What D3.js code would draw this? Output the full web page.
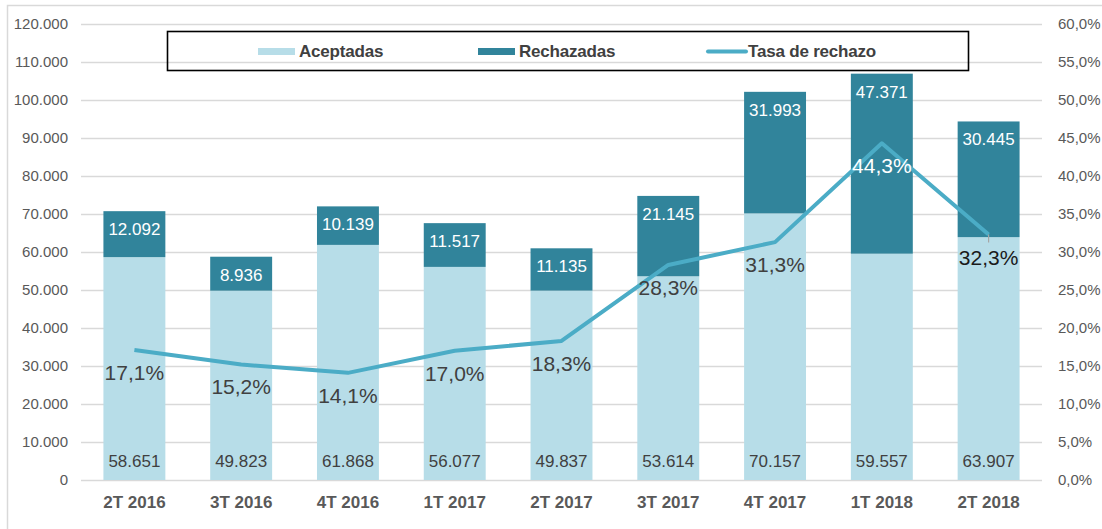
<!DOCTYPE html>
<html>
<head>
<meta charset="utf-8">
<script src="https://cdn.jsdelivr.net/npm/d3@7"></script>
<style>
  html, body { margin: 0; padding: 0; background: #fff; }
  svg { display: block; font-family: "Liberation Sans", Arial, sans-serif; }
</style>
</head>
<body>
<svg id="chart" width="1102" height="529"></svg>
<script>
// Solicitudes por trimestre
const quarters   = ["2T 2016", "3T 2016", "4T 2016", "1T 2017", "2T 2017", "3T 2017", "4T 2017", "1T 2018", "2T 2018"];
const aceptadas  = [58651, 49823, 61868, 56077, 49837, 53614, 70157, 59557, 63907];
const rechazadas = [12092, 8936, 10139, 11517, 11135, 21145, 31993, 47371, 30445];
const tasa       = [0.171, 0.152, 0.141, 0.170, 0.183, 0.283, 0.313, 0.443, 0.323];
const leftTicks  = [0, 10000, 20000, 30000, 40000, 50000, 60000, 70000, 80000, 90000, 100000, 110000, 120000];
const rightTicks = [0, 0.05, 0.10, 0.15, 0.20, 0.25, 0.30, 0.35, 0.40, 0.45, 0.50, 0.55, 0.60];
const seriesNames = ["Aceptadas", "Rechazadas", "Tasa de rechazo"];

const C_ACEPT = "#B7DDE8", C_RECH = "#31849B", C_LINE = "#4BACC6";
const C_AXIS = "#595959", C_LABEL = "#404040", C_GRID = "#D9D9D9";

const es = d3.formatLocale({ decimal: ",", thousands: ".", grouping: [3], currency: ["", " €"] });
const fmtInt = es.format(",d");
const fmtPct = es.format(".1%");

const svg = d3.select("#chart");
const plot = { left: 81, right: 1042, top: 24, bottom: 480 };

const x = d3.scaleBand().domain(quarters).range([plot.left, plot.right])
  .paddingInner(0.42).paddingOuter(0.21);
const y = d3.scaleLinear().domain([0, 120000]).range([plot.bottom, plot.top]);
const y2 = d3.scaleLinear().domain([0, 0.6]).range([plot.bottom, plot.top]);

// chart frame
svg.append("rect").attr("x", 7.5).attr("y", 5.5).attr("width", 1100).attr("height", 530)
  .attr("fill", "none").attr("stroke", C_GRID).attr("stroke-width", 1.5);

// gridlines
svg.append("g").selectAll("line").data(leftTicks).join("line")
  .attr("x1", plot.left).attr("x2", plot.right)
  .attr("y1", d => Math.round(y(d)) + 0.5).attr("y2", d => Math.round(y(d)) + 0.5)
  .attr("stroke", C_GRID).attr("stroke-width", 1.5);

// left axis
const yAxis = d3.axisLeft(y).tickValues(leftTicks).tickFormat(fmtInt).tickSize(0).tickPadding(0);
const gL = svg.append("g").attr("transform", `translate(${plot.left - 13},0)`).call(yAxis);
gL.select(".domain").remove();
gL.selectAll("text").attr("fill", C_AXIS).style("font-size", "15px")
  .style("font-family", "'Liberation Sans', Arial, sans-serif");

// right axis
const yAxisR = d3.axisRight(y2).tickValues(rightTicks).tickFormat(fmtPct).tickSize(0).tickPadding(0);
const gR = svg.append("g").attr("transform", `translate(${plot.right + 16},0)`).call(yAxisR);
gR.select(".domain").remove();
gR.selectAll("text").attr("fill", C_AXIS).style("font-size", "15px")
  .style("font-family", "'Liberation Sans', Arial, sans-serif");

// category axis
const xAxis = d3.axisBottom(x).tickSize(0).tickPadding(0);
const gX = svg.append("g").attr("transform", `translate(0,${plot.bottom})`).call(xAxis);
gX.select(".domain").remove();
gX.selectAll("text").attr("fill", C_AXIS).attr("dy", null).attr("y", 28)
  .style("font-size", "17px").style("font-weight", "bold")
  .style("font-family", "'Liberation Sans', Arial, sans-serif");

// stacked bars
const rows = quarters.map((q, i) => ({ q, a: aceptadas[i], r: rechazadas[i], t: tasa[i] }));
const bars = svg.append("g");
bars.selectAll("rect.acc").data(rows).join("rect").attr("class", "acc")
  .attr("x", d => x(d.q)).attr("width", x.bandwidth())
  .attr("y", d => y(d.a)).attr("height", d => y(0) - y(d.a))
  .attr("fill", C_ACEPT);
bars.selectAll("rect.rej").data(rows).join("rect").attr("class", "rej")
  .attr("x", d => x(d.q)).attr("width", x.bandwidth())
  .attr("y", d => y(d.a + d.r)).attr("height", d => y(d.a) - y(d.a + d.r))
  .attr("fill", C_RECH);

const cx = d => x(d.q) + x.bandwidth() / 2;

// bar value labels
svg.append("g").selectAll("text").data(rows).join("text")
  .attr("x", cx).attr("y", plot.bottom - 13).attr("text-anchor", "middle")
  .attr("fill", C_LABEL).style("font-size", "17px").text(d => fmtInt(d.a));
svg.append("g").selectAll("text").data(rows).join("text")
  .attr("x", cx).attr("y", d => y(d.a + d.r) + 24).attr("text-anchor", "middle")
  .attr("fill", "#fff").style("font-size", "17px").text(d => fmtInt(d.r));

// rejection-rate line
const line = d3.line().x(cx).y(d => y2(d.t));
svg.append("path").datum(rows).attr("d", line)
  .attr("fill", "none").attr("stroke", C_LINE).attr("stroke-width", 4)
  .attr("stroke-linejoin", "round");

// small leader on last point
const last = rows[rows.length - 1];
svg.append("line").attr("x1", cx(last)).attr("x2", cx(last))
  .attr("y1", y2(last.t)).attr("y2", y2(last.t) + 8)
  .attr("stroke", "#A6A6A6").attr("stroke-width", 1.2);

// rate labels
const rateColor = (d, i) => i === 7 ? "#fff" : (i === 8 ? "#1a1a1a" : C_LABEL);
svg.append("g").selectAll("text").data(rows).join("text")
  .attr("x", cx).attr("y", d => y2(d.t) + 30).attr("text-anchor", "middle")
  .attr("fill", rateColor).style("font-size", "21px").text(d => fmtPct(d.t));

// legend
const lg = svg.append("g");
lg.append("rect").attr("x", 167.5).attr("y", 31.5).attr("width", 801).attr("height", 39)
  .attr("fill", "none").attr("stroke", "#000").attr("stroke-width", 1.6);
const legendItems = [
  { name: seriesNames[0], type: "rect", color: C_ACEPT, x0: 258 },
  { name: seriesNames[1], type: "rect", color: C_RECH, x0: 478 },
  { name: seriesNames[2], type: "line", color: C_LINE, x0: 707 }
];
legendItems.forEach(it => {
  if (it.type === "rect") {
    lg.append("rect").attr("x", it.x0).attr("y", 48).attr("width", 37).attr("height", 7).attr("fill", it.color);
  } else {
    lg.append("line").attr("x1", it.x0 + 1).attr("x2", it.x0 + 39).attr("y1", 51.5).attr("y2", 51.5)
      .attr("stroke", it.color).attr("stroke-width", 4).attr("stroke-linecap", "round");
  }
  lg.append("text").attr("x", it.x0 + 41).attr("y", 56.5)
    .attr("fill", C_LABEL).style("font-size", "17px").style("font-weight", "bold")
    .style("letter-spacing", "-0.2px").text(it.name);
});
</script>
</body>
</html>
